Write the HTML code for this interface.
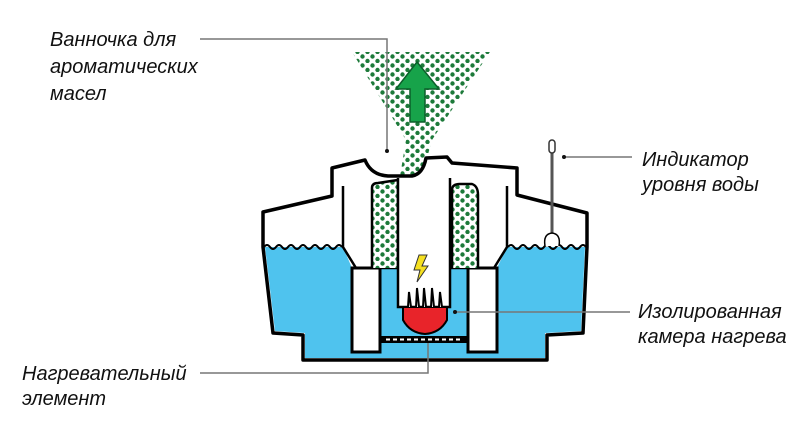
<!DOCTYPE html>
<html><head><meta charset="utf-8"><style>
html,body{margin:0;padding:0;background:#fff;width:800px;height:437px;overflow:hidden}
svg{display:block}
text{font-family:"Liberation Sans",sans-serif;font-style:italic;font-size:20px;fill:#111}
</style></head><body>
<svg width="800" height="437" viewBox="0 0 800 437" xmlns="http://www.w3.org/2000/svg">
<defs>
<pattern id="dots" width="10" height="9" patternUnits="userSpaceOnUse">
<circle cx="2.5" cy="2.5" r="2.2" fill="#1d7a3a"/><circle cx="7.5" cy="7" r="2.2" fill="#1d7a3a"/>
</pattern>
<pattern id="dots2" width="10" height="9" patternUnits="userSpaceOnUse">
<rect width="10" height="9" fill="#fff"/>
<circle cx="2.5" cy="2.5" r="2.2" fill="#1d7a3a"/><circle cx="7.5" cy="7" r="2.2" fill="#1d7a3a"/>
</pattern>
</defs>
<!-- spray -->
<polygon points="352,52 490,52 432,140 422,176 400,176 406,140" fill="url(#dots)"/>
<!-- arrow -->
<polygon points="417,62 396,89 410,89 410,122 425,122 425,89 439,89" fill="#17a34a" stroke="#0c5f2a" stroke-width="1.5"/>
<!-- body -->
<path d="M263,212 L332,196 L332,168 L365,160 Q371,175 388,176 L412,176 Q423,174 426,158 L447,157 L452,163 L517,168 L517,195 L587,213 L587,247 L583,333 L547,335 L547,360 L303,360 L303,335 L273,333 L263,247 Z" fill="#fff" stroke="#000" stroke-width="3.5" stroke-linejoin="round"/>
<!-- water -->
<path d="M265,247 L585,247 L581,331 L545,333 L545,358 L305,358 L305,333 L275,331 Z" fill="#4fc3ee"/>
<path d="M264,247 q3,-4 6,0 t6,0 t6,0 t6,0 t6,0 t6,0 t6,0 t6,0 t6,0 t6,0 t6,0 t6,0 t6,0" fill="none" stroke="#000" stroke-width="2"/>
<path d="M508,247 q3,-4 6,0 t6,0 t6,0 t6,0 t6,0 t6,0 t6,0 t6,0 t6,0 t6,0 t6,0 t6,0 t6,0" fill="none" stroke="#000" stroke-width="2"/>
<!-- upper inner white block -->
<path d="M343,186 L507,186 L507,247 L497,268 L352,268 L343,247 Z" fill="#fff"/>
<path d="M343,186 L343,247 L356,268" fill="none" stroke="#000" stroke-width="2.5"/>
<path d="M507,186 L507,247 L494,268" fill="none" stroke="#000" stroke-width="2.5"/>
<line x1="352" y1="268" x2="497" y2="268" stroke="#000" stroke-width="2.5"/>
<!-- pillars -->
<rect x="352" y="268" width="28" height="84" fill="#fff" stroke="#000" stroke-width="3"/>
<rect x="468" y="268" width="29" height="84" fill="#fff" stroke="#000" stroke-width="3"/>
<!-- green columns -->
<path d="M372,268 L372,188 Q372,183 378,183 L398,180 L398,268" fill="url(#dots2)" stroke="#000" stroke-width="2.5"/>
<path d="M452,268 L452,190 Q452,184 460,184 L472,184 Q478,186 478,195 L478,268" fill="url(#dots2)" stroke="#000" stroke-width="2.5"/>
<!-- center column -->
<path d="M398,178 L398,307 L450,307 L450,178" fill="#fff" stroke="#000" stroke-width="2.5"/>
<!-- lightning -->
<polygon points="419,255 427,255 422,266 428,266 417,282 420,270 414,270" fill="#f5e020" stroke="#333" stroke-width="1"/>
<!-- heater -->
<path d="M403,307 L447,307 L447,320 Q440,333 425,334 Q410,333 403,320 Z" fill="#e8242a" stroke="#000" stroke-width="2"/>
<path d="M408,307 L409,292 L411,307 M416,307 L417,288 L419,307 M423,307 L424,288 L426,307 M431,307 L432,288 L434,307 M439,307 L440,292 L442,307" fill="#fff" stroke="#000" stroke-width="2"/>
<!-- bottom plate -->
<rect x="380" y="336" width="88" height="7" fill="#000"/>
<line x1="386" y1="339.5" x2="462" y2="339.5" stroke="#fff" stroke-width="2" stroke-dasharray="4,3"/>
<!-- indicator -->
<line x1="552" y1="152" x2="552" y2="234" stroke="#555" stroke-width="3"/>
<rect x="549" y="140" width="6" height="13" rx="3" fill="#fff" stroke="#333" stroke-width="1.5"/>
<path d="M545,246 Q543,234 552,233 Q561,234 559,246" fill="#fff" stroke="#000" stroke-width="1.5"/>
<!-- leader lines -->
<g stroke="#777" stroke-width="1.5" fill="none">
<polyline points="200,39 387,39 387,150"/>
<line x1="565" y1="157" x2="632" y2="157"/>
<line x1="455" y1="312" x2="630" y2="312"/>
<polyline points="200,373 428,373 428,343"/>
</g>
<circle cx="387" cy="151" r="2" fill="#111"/>
<circle cx="564" cy="157" r="2" fill="#111"/>
<circle cx="455" cy="312" r="2" fill="#111"/>
<!-- labels -->
<text x="50" y="46">Ванночка для</text>
<text x="50" y="73">ароматических</text>
<text x="50" y="100">масел</text>
<text x="642" y="166">Индикатор</text>
<text x="642" y="191">уровня воды</text>
<text x="638" y="318">Изолированная</text>
<text x="638" y="343">камера нагрева</text>
<text x="22" y="380">Нагревательный</text>
<text x="22" y="405">элемент</text>
</svg>
</body></html>
